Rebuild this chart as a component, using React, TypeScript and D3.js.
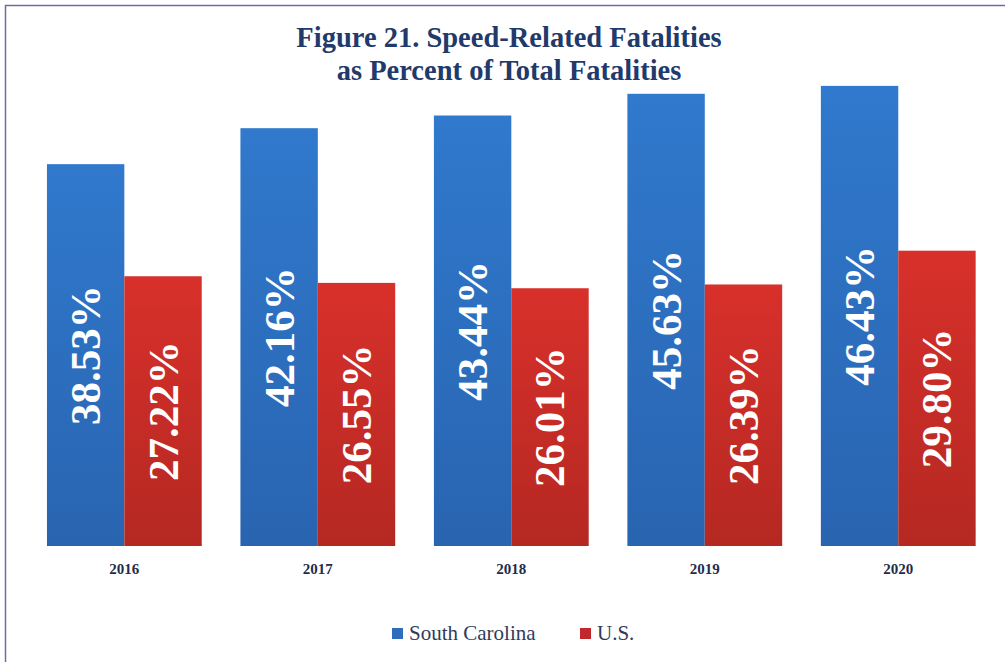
import * as React from 'react';
import * as d3 from 'd3';

const years = ['2016', '2017', '2018', '2019', '2020'];
const seriesNames = ['South Carolina', 'U.S.'];
const southCarolina = [38.53, 42.16, 43.44, 45.63, 46.43];
const us = [27.22, 26.55, 26.01, 26.39, 29.8];

const W = 1005;
const H = 662;
const FONT = "'Liberation Serif', 'DejaVu Serif', serif";

const colors = [
    {top: '#3079cd', bottom: '#2964b0', legend: '#2e6cbc'},
    {top: '#d8302b', bottom: '#b52822', legend: '#c0282c'},
];

export default function App() {
    const x = d3.scaleBand<string>()
        .domain(years)
        .range([27.6, 995])
        .paddingInner(0.2)
        .paddingOuter(0.1);

    const xInner = d3.scaleBand<string>()
        .domain(seriesNames)
        .range([0, x.bandwidth()]);

    const y = d3.scaleLinear()
        .domain([0, 50])
        .range([546, 50.5]);

    const series = [southCarolina, us];

    return (
        <svg width={W} height={H} style={{position: 'absolute', left: 0, top: 0, fontFamily: FONT}}>
            <defs>
                {colors.map((c, i) => (
                    <linearGradient key={i} id={`grad${i}`} x1="0" y1="0" x2="0" y2="1">
                        <stop offset="0%" stopColor={c.top} />
                        <stop offset="100%" stopColor={c.bottom} />
                    </linearGradient>
                ))}
            </defs>
            <rect x={0} y={0} width={W} height={H} fill="#ffffff" />
            <rect x={5.5} y={5.5} width={W + 10} height={H + 10} fill="none" stroke="#6b6ea3" strokeWidth={1.5} />

            <text x={509} y={47} textAnchor="middle" style={{fontFamily: FONT, fontWeight: 'bold', fontSize: 28.5}} fill="#1f3a6b">
                Figure 21. Speed-Related Fatalities
            </text>
            <text x={509} y={80} textAnchor="middle" style={{fontFamily: FONT, fontWeight: 'bold', fontSize: 28.5}} fill="#1f3a6b">
                as Percent of Total Fatalities
            </text>

            {years.map((yr, i) => (
                <g key={yr} transform={`translate(${x(yr)},0)`}>
                    {series.map((vals, s) => {
                        const bx = xInner(seriesNames[s]) as number;
                        const bw = xInner.bandwidth();
                        const top = y(vals[i]);
                        const mid = (top + y(0)) / 2;
                        return (
                            <g key={s}>
                                <rect x={bx} y={top} width={bw} height={y(0) - top} fill={`url(#grad${s})`} />
                                <text
                                    transform={`translate(${bx + bw / 2},${mid}) rotate(-90)`}
                                    textAnchor="middle"
                                    dominantBaseline="central"
                                    style={{fontFamily: FONT, fontWeight: 'bold', fontSize: 43}}
                                    fill="#ffffff"
                                >
                                    {vals[i].toFixed(2)}%
                                </text>
                            </g>
                        );
                    })}
                    <text x={x.bandwidth() / 2} y={574} textAnchor="middle" style={{fontFamily: FONT, fontWeight: 'bold', fontSize: 15}} fill="#1f2d4d">
                        {yr}
                    </text>
                </g>
            ))}

            {/* legend */}
            <rect x={392} y={628} width={11} height={11} fill={colors[0].legend} />
            <text x={409} y={640} style={{fontFamily: FONT, fontSize: 21, fontWeight: 'normal'}} fill="#2f3b5c">{seriesNames[0]}</text>
            <rect x={580} y={628} width={11} height={11} fill={colors[1].legend} />
            <text x={597} y={640} style={{fontFamily: FONT, fontSize: 21, fontWeight: 'normal'}} fill="#2f3b5c">{seriesNames[1]}</text>
        </svg>
    );
}
